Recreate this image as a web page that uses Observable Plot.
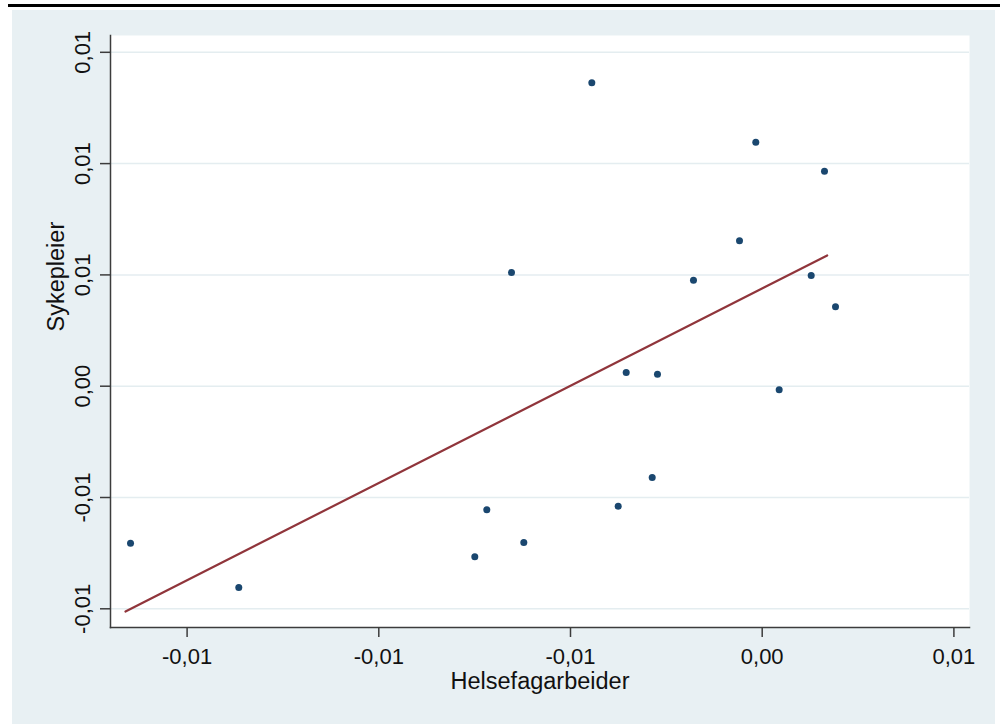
<!DOCTYPE html>
<html>
<head>
<meta charset="utf-8">
<script src="https://cdn.jsdelivr.net/npm/d3@7"></script>
<script src="https://cdn.jsdelivr.net/npm/@observablehq/plot@0.6"></script>
<style>
  html, body { margin: 0; padding: 0; background: #ffffff; }
  #wrap { position: relative; width: 1000px; height: 724px; overflow: hidden; font-family: "Liberation Sans", Arial, sans-serif; }
  #bar { position: absolute; left: 8px; top: 4px; width: 992px; height: 3px; background: #000; }
  #bg { position: absolute; left: 12px; top: 10px; width: 983px; height: 714px; background: #e8f0f3; }
  #chart { position: absolute; left: 0; top: 0; }
</style>
</head>
<body>
<div id="wrap">
  <div id="bar"></div>
  <div id="bg"></div>
  <div id="chart"></div>
</div>
<script>
// Scatter data: Helsefagarbeider (x) vs Sykepleier (y)
const helsefagarbeider = [-0.016476, -0.013652, -0.007496, -0.007183, -0.006218, -0.006539, -0.004444, -0.003756, -0.003547, -0.002869, -0.002731, -0.001792, -0.000592, -0.000167, 0.000443, 0.001278, 0.001625, 0.001912];
const sykepleier = [-0.007053, -0.009043, -0.007664, -0.005553, -0.007022, 0.005108, 0.013630, -0.005391, 0.000615, -0.004102, 0.000539, 0.004762, 0.006532, 0.010961, -0.000162, 0.004973, 0.009659, 0.003567];

// Fitted line endpoints
const fitX = [-0.016607, 0.001695];
const fitY = [-0.010121, 0.005872];

// Ticks and their (rounded) labels as printed
const xTicks = [-0.015, -0.01, -0.005, 0, 0.005];
const xTickLabels = ["-0,01", "-0,01", "-0,01", "0,00", "0,01"];
const yTicks = [-0.01, -0.005, 0, 0.005, 0.01, 0.015];
const yTickLabels = ["-0,01", "-0,01", "0,00", "0,01", "0,01", "0,01"];

const xTitle = "Helsefagarbeider";
const yTitle = "Sykepleier";

const points = helsefagarbeider.map((x, i) => ({x, y: sykepleier[i]}));
const fit = fitX.map((x, i) => ({x, y: fitY[i]}));

const xLab = new Map(xTicks.map((t, i) => [t, xTickLabels[i]]));
const yLab = new Map(yTicks.map((t, i) => [t, yTickLabels[i]]));

const axisColor = "#3c3c3c";

const chart = Plot.plot({
  width: 1000,
  height: 724,
  marginLeft: 110,
  marginRight: 31,
  marginTop: 35,
  marginBottom: 97,
  style: { background: "transparent", fontFamily: "'Liberation Sans', Arial, sans-serif", color: "#111" },
  x: { domain: [-0.016998, 0.005407] },
  y: { domain: [-0.010840, 0.015755] },
  marks: [
    Plot.frame({ fill: "white", stroke: "none" }),
    Plot.gridY(yTicks, { stroke: "#e4edf0", strokeOpacity: 1, strokeWidth: 1.5 }),
    Plot.frame({ anchor: "left", stroke: axisColor, strokeWidth: 1.5 }),
    Plot.frame({ anchor: "bottom", stroke: axisColor, strokeWidth: 1.5 }),
    Plot.axisX(xTicks, {
      tickSize: 10, tickPadding: 11, stroke: axisColor, strokeWidth: 1.5,
      tickFormat: d => xLab.get(d), fontSize: 22, fill: "#111", label: null
    }),
    Plot.axisY(yTicks, {
      tickSize: 10, tickPadding: 11, tickRotate: -90, stroke: axisColor, strokeWidth: 1.5,
      tickFormat: d => yLab.get(d), fontSize: 22, fill: "#111", label: null
    }),
    Plot.line(fit, { x: "x", y: "y", stroke: "#90353b", strokeWidth: 2.2 }),
    Plot.dot(points, { x: "x", y: "y", r: 3.5, fill: "#1a476f", stroke: "none" }),
    Plot.text([xTitle], { frameAnchor: "bottom", dy: 54, lineAnchor: "middle", fontSize: 23.5, fill: "#111" }),
    Plot.text([yTitle], { frameAnchor: "left", dx: -54, rotate: -90, lineAnchor: "middle", fontSize: 23.5, fill: "#111" })
  ]
});
document.getElementById("chart").appendChild(chart);
</script>
</body>
</html>
